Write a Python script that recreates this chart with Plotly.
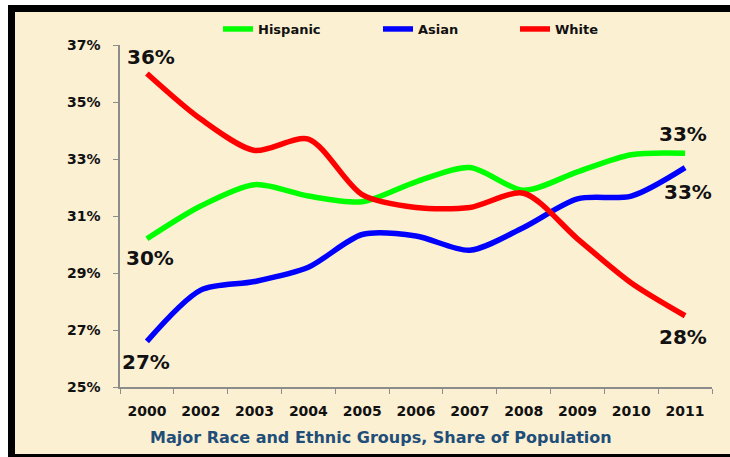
import plotly.graph_objects as go

years = ["2000", "2002", "2003", "2004", "2005", "2006", "2007", "2008", "2009", "2010", "2011"]
hispanic = [30.2, 31.35, 32.1, 31.7, 31.5, 32.2, 32.7, 31.9, 32.55, 33.15, 33.2]
asian = [26.6, 28.4, 28.7, 29.2, 30.35, 30.3, 29.8, 30.6, 31.6, 31.7, 32.7]
white = [36.0, 34.4, 33.3, 33.7, 31.75, 31.3, 31.3, 31.8, 30.2, 28.65, 27.5]
y_ticks = [25, 27, 29, 31, 33, 35, 37]
y_tick_text = [f"{t}%" for t in y_ticks]
title_text = "Major Race and Ethnic Groups, Share of Population"

FONT = "DejaVu Sans"
CREAM = "#FCF0D3"

fig = go.Figure()
series = [
    ("Hispanic", hispanic, "#00FF00", "legend"),
    ("Asian", asian, "#0000FF", "legend2"),
    ("White", white, "#FF0000", "legend3"),
]
for name, vals, col, lg in series:
    fig.add_trace(go.Scatter(
        x=years, y=vals, name=name, mode="lines",
        line=dict(color=col, width=5.5, shape="spline", smoothing=0.8),
        legend=lg, showlegend=True,
    ))

# frame (pixel geometry converted to paper coords)
L, R, T, B = 120, 18, 45, 70
W, H = 730, 457
pw, ph = W - L - R, H - T - B
def px(x):
    return (x - L) / pw
def py(y):
    return (H - B - y) / ph

shapes = [
    dict(type="rect", xref="paper", yref="paper", x0=px(8), x1=px(745), y0=py(470), y1=py(5),
         fillcolor="black", line_width=0, layer="below"),
    dict(type="rect", xref="paper", yref="paper", x0=px(15), x1=px(745), y0=py(454), y1=py(12),
         fillcolor=CREAM, line_width=0, layer="below"),
]

def lab(i, vals, dx, dy):
    return dict(x=i, y=vals[i], xref="x", yref="y", text=f"{round(vals[i])}%", showarrow=False,
                xshift=dx, yshift=dy, xanchor="center", yanchor="middle",
                font=dict(family=FONT, size=20, color="#111111", weight="bold"))

last = len(years) - 1
annotations = [
    lab(0, white, 4, 17),
    lab(0, hispanic, 3, -19),
    lab(0, asian, -1, -21),
    lab(last, hispanic, -2, 19),
    lab(last, asian, 3, -24),
    lab(last, white, -2, -21),
    dict(x=px(381), y=py(437), xref="paper", yref="paper", text=title_text, showarrow=False,
         xanchor="center", yanchor="middle",
         font=dict(family=FONT, size=16, color="#1F4E79", weight="bold")),
]

leg_common = dict(orientation="h", yanchor="middle", y=py(29), xanchor="left",
                  bgcolor="rgba(0,0,0,0)",
                  font=dict(family=FONT, size=13, color="#111111", weight="bold"),
                  itemwidth=30)

fig.update_layout(
    width=W, height=H,
    margin=dict(l=L, r=R, t=T, b=B),
    paper_bgcolor="white",
    plot_bgcolor="rgba(0,0,0,0)",
    shapes=shapes,
    annotations=annotations,
    showlegend=True,
    legend=dict(x=px(218), **leg_common),
    legend2=dict(x=px(378), **leg_common),
    legend3=dict(x=px(515), **leg_common),
    xaxis=dict(
        type="category", range=[-0.5, len(years) - 0.5],
        showline=True, linecolor="#8C8C8C", linewidth=1.5,
        ticks="outside", tickson="boundaries", ticklen=5, tickcolor="#8C8C8C",
        showgrid=False, zeroline=False,
        tickfont=dict(family=FONT, size=14, color="#111111", weight="bold"),
        ticklabelstandoff=10,
    ),
    yaxis=dict(
        range=[25, 37], tickvals=y_ticks, ticktext=y_tick_text,
        showline=True, linecolor="#8C8C8C", linewidth=1.5,
        ticks="outside", ticklen=5, tickcolor="#8C8C8C",
        showgrid=False, zeroline=False,
        tickfont=dict(family=FONT, size=14, color="#111111", weight="bold"),
        ticklabelstandoff=10,
    ),
)

fig.write_html("out.html", config={"displayModeBar": False},
               post_script="document.body.style.margin='0';")
